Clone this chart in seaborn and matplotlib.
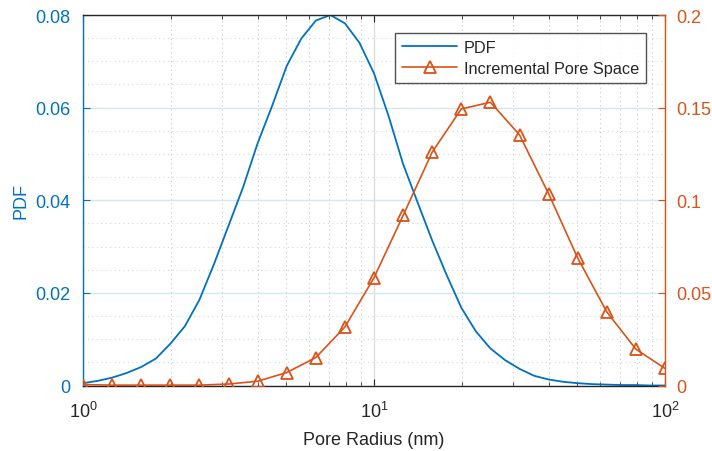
import numpy as np
import pandas as pd
import seaborn as sns
import matplotlib.pyplot as plt
from matplotlib.ticker import LogLocator, FixedLocator, NullFormatter

# Probability density of pore radius, sampled 20 points per decade (1 to 100 nm)
pdf_radius = [10 ** (k / 20) for k in range(41)]
pdf_values = [0.0005, 0.0010, 0.0017, 0.0027, 0.0040, 0.0058, 0.0090, 0.0128,
              0.0185, 0.0262, 0.0345, 0.0428, 0.0523, 0.0604, 0.0690, 0.0749,
              0.0788, 0.0800, 0.0782, 0.0740, 0.0674, 0.0582, 0.0478, 0.0395,
              0.0313, 0.0238, 0.0168, 0.0117, 0.0080, 0.0055, 0.0036, 0.0021,
              0.0013, 0.0008, 0.0005, 0.0003, 0.0002, 0.0001, 0.0001, 0.0000,
              0.0000]

# Incremental pore space, 10 points per decade
inc_radius = [10 ** (k / 10) for k in range(21)]
inc_values = [0.0005, 0.0002, 0.0002, 0.0002, 0.0002, 0.0008, 0.0023, 0.0070,
              0.0151, 0.0316, 0.0582, 0.0918, 0.1260, 0.1493, 0.1529, 0.1353,
              0.1035, 0.0688, 0.0397, 0.0196, 0.0092]

left_ticks = [0, 0.02, 0.04, 0.06, 0.08]
left_tick_labels = ["0", "0.02", "0.04", "0.06", "0.08"]
right_ticks = [0, 0.05, 0.10, 0.15, 0.20]
right_tick_labels = ["0", "0.05", "0.1", "0.15", "0.2"]

BLUE = "#0072BD"
ORANGE = "#D95319"
DARK = "#262626"

sns.set_style("white")
plt.rcParams["font.family"] = ["Liberation Sans", "DejaVu Sans"]
plt.rcParams["mathtext.fontset"] = "custom"
plt.rcParams["mathtext.rm"] = "Liberation Sans"
plt.rcParams["mathtext.it"] = "Liberation Sans:italic"

pdf_df = pd.DataFrame({"radius": pdf_radius, "pdf": pdf_values})
inc_df = pd.DataFrame({"radius": inc_radius, "inc": inc_values})

fig = plt.figure(figsize=(7.12, 4.52), dpi=100)
ax = fig.add_axes([0.1166, 0.1449, 0.8174, 0.8197])
ax2 = ax.twinx()

sns.lineplot(data=pdf_df, x="radius", y="pdf", ax=ax, color=BLUE,
             linewidth=1.3, label="PDF", legend=False)
sns.lineplot(data=inc_df, x="radius", y="inc", ax=ax2, color=ORANGE,
             linewidth=1.2, marker="^", markersize=9, markerfacecolor="none",
             markeredgecolor=ORANGE, markeredgewidth=1.3,
             label="Incremental Pore Space", legend=False)

for a in (ax, ax2):
    a.set_xscale("log")
    a.set_xlim(1, 100)

ax.set_ylim(0, 0.08)
ax2.set_ylim(0, 0.2)

# x axis ticks
ax.xaxis.set_major_locator(FixedLocator([1, 10, 100]))
ax.set_xticklabels([r"$10^{0}$", r"$10^{1}$", r"$10^{2}$"])
ax.xaxis.set_minor_locator(LogLocator(base=10, subs=np.arange(2, 10)))
ax.xaxis.set_minor_formatter(NullFormatter())

ax.set_yticks(left_ticks)
ax.set_yticklabels(left_tick_labels)
ax.yaxis.set_minor_locator(FixedLocator(np.arange(0, 0.0801, 0.005)))
ax2.set_yticks(right_ticks)
ax2.set_yticklabels(right_tick_labels)

# grid
ax.set_axisbelow(True)
ax.grid(True, which="major", axis="y", color="#D5E6F3", linewidth=1.0, linestyle="-")
ax.grid(True, which="minor", axis="y", color="#C7DCEC", linewidth=0.8, linestyle=(0, (1, 3)))
ax.grid(True, which="major", axis="x", color="#DDDDDD", linewidth=1.0, linestyle="-")
ax.grid(True, which="minor", axis="x", color="#C8C8C8", linewidth=0.8, linestyle=(0, (1, 3)))
ax2.grid(False)

# ticks and spines
ax.tick_params(axis="x", which="both", direction="in", top=True, bottom=True,
               colors=DARK, labelsize=13, pad=11)
ax.tick_params(axis="x", which="major", length=5)
ax.tick_params(axis="x", which="minor", length=3)
ax.tick_params(axis="y", which="major", direction="in", length=5, colors=BLUE,
               labelsize=13, left=True, pad=9)
ax.tick_params(axis="y", which="minor", left=False)
ax2.tick_params(axis="y", which="major", direction="in", length=5, colors=ORANGE,
                labelsize=13, right=True, pad=8)

for side in ("top", "bottom"):
    ax.spines[side].set_color(DARK)
    ax2.spines[side].set_visible(False)
ax.spines["left"].set_color(BLUE)
ax2.spines["right"].set_color(ORANGE)
ax2.spines["left"].set_visible(False)
ax.spines["right"].set_visible(False)
for s in ax.spines.values():
    s.set_linewidth(1.0)
ax2.spines["right"].set_linewidth(1.0)

ax.set_xlabel("Pore Radius (nm)", fontsize=13, color=DARK, labelpad=7)
ax.set_ylabel("PDF", fontsize=13, color=BLUE, labelpad=4)
ax2.set_ylabel("")

h1, l1 = ax.get_legend_handles_labels()
h2, l2 = ax2.get_legend_handles_labels()
leg = ax2.legend(h1 + h2, l1 + l2, loc="upper right", bbox_to_anchor=(0.968, 0.952),
                 fontsize=11.7, frameon=True, fancybox=False, edgecolor=DARK,
                 handlelength=3.4, borderpad=0.45, labelspacing=0.35,
                 handletextpad=0.4, borderaxespad=0)
leg.get_frame().set_linewidth(1.0)
for t in leg.get_texts():
    t.set_color(DARK)

fig.savefig("out.png", dpi=100, facecolor="white")
